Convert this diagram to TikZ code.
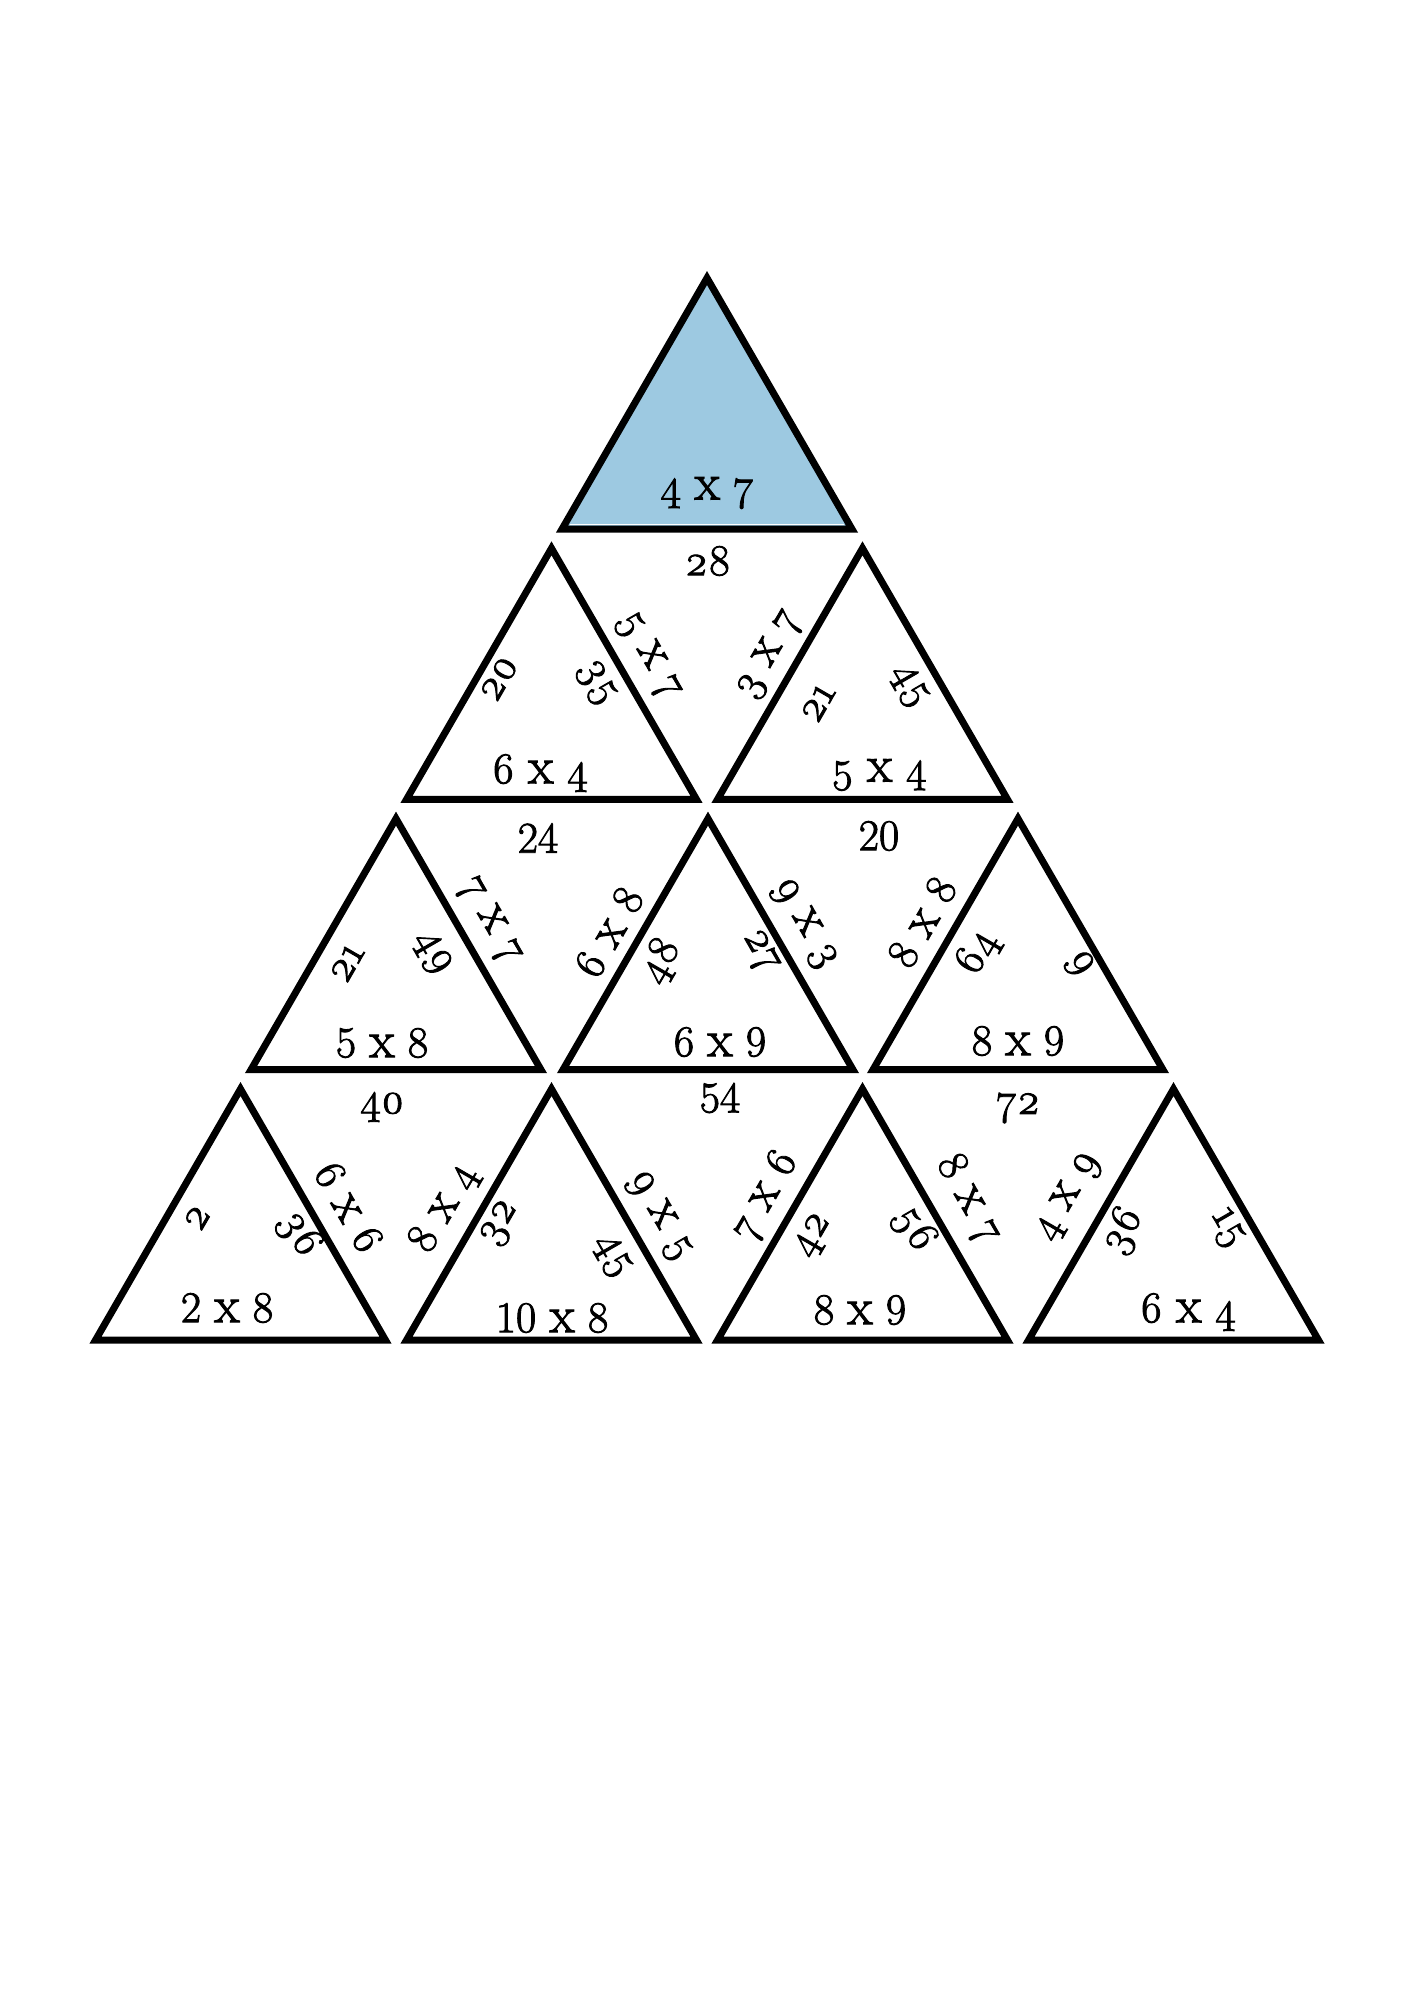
\documentclass[tikz,border=0pt]{standalone}
\usepackage{fontspec}
\setmainfont{Latin Modern Roman}[Numbers=OldStyle, UprightFeatures={FakeBold=2}]
\newfontfamily\lin{Latin Modern Roman}[Numbers=Lining, UprightFeatures={FakeBold=2}]
\definecolor{tileblue}{RGB}{157,201,225}
\newcommand\mytri[3]{\draw[tile,#3] (#1,#2) -- ++(-145,251.1) -- ++(290,0) -- cycle;}
\newcommand\xx{{\fontsize{52}{52}\selectfont x}}
\tikzset{
  tile/.style={draw=black, line width=7pt, line join=miter},
  lab/.style={font=\fontsize{44}{44}\selectfont, inner sep=0pt},
  lup/.style={lab, rotate=60},
  ldn/.style={lab, rotate=-60}
}
\begin{document}
\begin{tikzpicture}[x=1pt,y=-1pt]
\useasboundingbox (0,0) rectangle (1414,2000);
\fill[white] (0,0) rectangle (1414,2000);
% triangles
\mytri{707}{278}{fill=tileblue}
\draw[white, line width=1.5pt] (570,524.6) -- (844,524.6);
\mytri{551.5}{548.3}{}
\mytri{862.5}{548.3}{}
\mytri{396}{818.6}{}
\mytri{708}{818.6}{}
\mytri{1018}{818.6}{}
\mytri{240.5}{1089}{}
\mytri{551.5}{1089}{}
\mytri{862.5}{1089}{}
\mytri{1173.5}{1089}{}
% row 1
\node[lab] (t1) at (707,493) {4 \xx{} 7};
% row 2
\node[lab] (a1) at (708,561) {28};
\node[lup] (a2) at (499,679) {20};
\node[ldn] (a3) at (596,683) {35};
\node[lab] (a4) at (540,773) {6 \xx{} 4};
\node[ldn] (a5) at (648,656) {5 \xx{} 7};
\node[lup] (a6) at (770,655) {3 \xx{} 7};
\node[lup] (a7) at (818,703) {21};
\node[ldn] (a8) at (909,686) {45};
\node[lab] (a9) at (879,775) {5 \xx{} 4};
% row 3
\node[lup] (b1) at (347,963) {21};
\node[ldn] (b2) at (432,953) {49};
\node[lab] (b3) at (382,1043) {\lin 5 \xx{} 8};
\node[lab] (b4) at (538,838) {\lin 24};
\node[ldn] (b5) at (489,921) {7 \xx{} 7};
\node[lup] (b6) at (609,932) {6 \xx{} 8};
\node[lup] (b7) at (661,961) {48};
\node[ldn] (b8) at (759,952) {27};
\node[lab] (b9) at (720,1042) {\lin 6 \xx{} 9};
\node[lab] (b10) at (879,836) {\lin 20};
\node[ldn] (b11) at (804,924) {9 \xx{} 3};
\node[lup] (b12) at (922,922) {8 \xx{} 8};
\node[lup] (b13) at (978,953) {64};
\node[ldn] (b14) at (1079,964) {9};
\node[lab] (b15) at (1018,1041) {\lin 8 \xx{} 9};
% row 4
\node[lup] (c1) at (197,1218) {2};
\node[ldn] (c2) at (299,1234) {36};
\node[lab] (c3) at (227,1308) {\lin 2 \xx{} 8};
\node[lab] (c4) at (382,1107) {40};
\node[ldn] (c5) at (349,1207) {6 \xx{} 6};
\node[lup] (c6) at (444,1209) {8 \xx{} 4};
\node[lup] (c7) at (501,1224) {32};
\node[ldn] (c8) at (612,1256) {45};
\node[lab] (c9) at (552,1318) {\lin 10 \xx{} 8};
\node[lab] (c10) at (720,1098) {\lin 54};
\node[ldn] (c11) at (659,1216) {9 \xx{} 5};
\node[lup] (c12) at (766,1196) {7 \xx{} 6};
\node[lup] (c13) at (814,1236) {42};
\node[ldn] (c14) at (914,1229) {56};
\node[lab] (c15) at (860,1310) {\lin 8 \xx{} 9};
\node[lab] (c16) at (1018,1108) {72};
\node[ldn] (c17) at (968,1199) {8 \xx{} 7};
\node[lup] (c18) at (1069,1197) {4 \xx{} 9};
\node[lup] (c19) at (1123,1231) {36};
\node[ldn] (c20) at (1226,1229) {15};
\node[lab] (c21) at (1188,1312) {6 \xx{} 4};
\end{tikzpicture}
\end{document}
